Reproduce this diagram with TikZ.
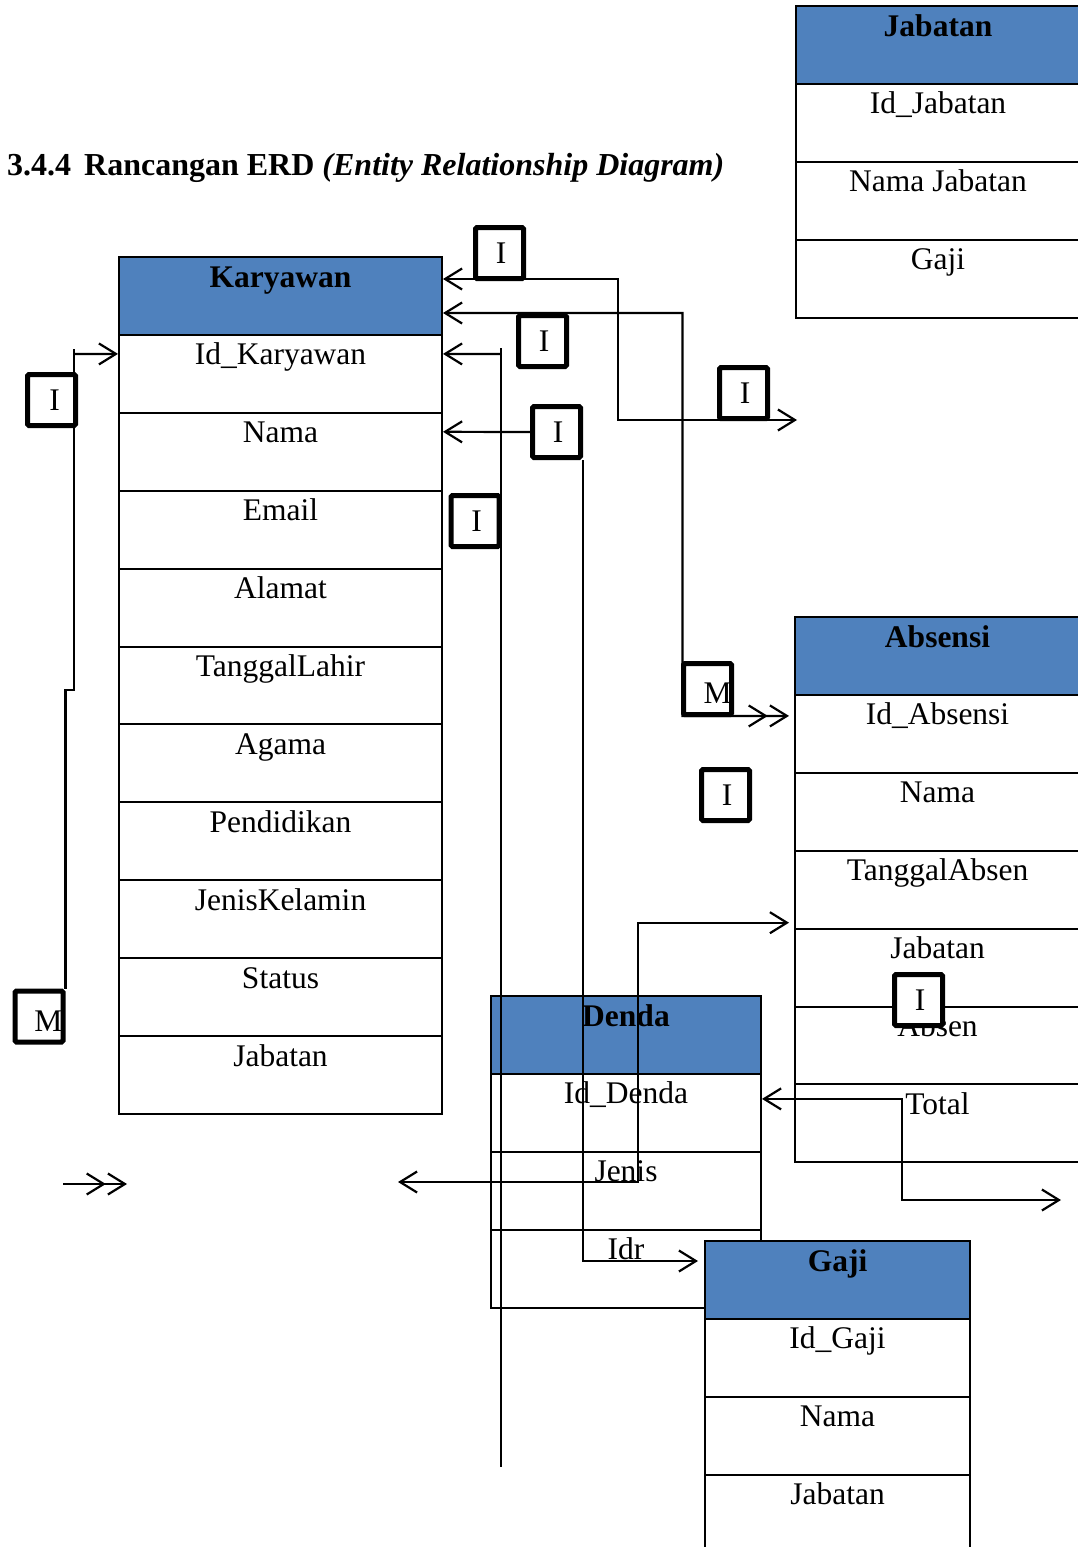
\documentclass[tikz,border=0pt]{standalone}
\usepackage{fontspec}
\setmainfont{Liberation Serif}
\usetikzlibrary{arrows.meta}
\definecolor{hdrblue}{HTML}{4F81BD}
\pgfdeclarelayer{back}
\pgfdeclarelayer{front}
\pgfsetlayers{back,main,front}
\newcommand{\attrfont}{\fontsize{31.5}{38}\selectfont}
% entity table: prefix, left x, top y, width, header, attributes
\newcommand{\erdtable}[6]{%
  \node[hcell, minimum width=#4pt] (#1-h) at (#2,#3) {#5};
  \foreach \a [count=\k] in {#6} {
    \node[cell, minimum width=#4pt] (#1-\k) at (#2,{#3+77.9*\k}) {\a};
  }
}
\begin{document}
\begin{tikzpicture}[x=1pt,y=-1pt,
  cell/.style={draw=black, line width=2pt, fill=white, anchor=north west,
    inner xsep=0pt, inner ysep=0pt, outer sep=0pt,
    text height=30pt, text depth=48pt, font=\attrfont},
  hcell/.style={cell, fill=hdrblue, font=\attrfont\bfseries},
  conn/.style={draw=black, line width=2.2pt},
  >={Straight Barb[length=17pt,width=21pt,sep=1pt]},
  tagbox/.style={draw=black, line width=5pt, fill=white, rounded corners=1.5pt,
    minimum width=48pt, minimum height=51pt, inner sep=0pt, font=\attrfont},
  tagtext/.style={inner sep=0pt, anchor=base, font=\attrfont}]
\useasboundingbox (0,0) rectangle (1078,1547);

% heading
\node[anchor=base west, inner sep=0pt, font=\fontsize{32}{38}\selectfont\bfseries] (title) at (7,175)
  {3.4.4\hspace{13pt}Rancangan ERD \textit{(Entity Relationship Diagram)}};

% entities
\begin{pgfonlayer}{back}
  \erdtable{jab}{796}{6}{284}{Jabatan}{Id\_Jabatan, Nama Jabatan, Gaji}
  \erdtable{kar}{119}{257}{323}{Karyawan}{Id\_Karyawan, Nama, Email, Alamat, TanggalLahir, Agama, Pendidikan, JenisKelamin, Status, Jabatan}
  \erdtable{abs}{795}{617}{285}{Absensi}{Id\_Absensi, Nama, TanggalAbsen, Jabatan, Absen, Total}
  \erdtable{den}{491}{996}{270}{Denda}{Id\_Denda, Jenis, Idr}
  \erdtable{gaj}{705}{1241}{265}{Gaji}{Id\_Gaji, Nama, Jabatan}
\end{pgfonlayer}

% cardinality marks
\begin{pgfonlayer}{front}
  \node[tagbox] (i1) at (499.5,253) {\hspace*{3pt}I};
  \node[tagbox] (i2) at (542.5,341) {\hspace*{3pt}I};
  \node[tagbox] (i3) at (556.5,432) {\hspace*{3pt}I};
  \node[tagbox] (i4) at (743.5,393) {\hspace*{3pt}I};
  \node[tagbox] (i5) at (475,521) {\hspace*{3pt}I};
  \node[tagbox] (i6) at (51.5,400) {\hspace*{6pt}I};
  \node[tagbox] (i7) at (725.5,795) {\hspace*{3pt}I};
  \node[tagbox] (i8) at (918.5,1000) {\hspace*{3pt}I};
  \node[tagbox] (m1) at (707.5,689) {};
  \node[tagtext] (m1t) at (717.5,703) {M};
  \node[tagbox] (m2) at (39,1016.5) {};
  \node[tagtext] (m2t) at (48.5,1031) {M};
\end{pgfonlayer}

% bends and free ends
\coordinate (c1b) at (618,420);
\coordinate (c1e) at (798,420);
\coordinate (c2b) at (682.5,716);
\coordinate (c3j) at (501,354);
\coordinate (c3t) at (501,348);
\coordinate (c3e) at (501,1467);
\coordinate (c5t) at (74,349);
\coordinate (c5j) at (74,354);
\coordinate (c5b) at (74,690);
\coordinate (c6s) at (63,1184);
\coordinate (c6e) at (128,1184);
\coordinate (c7s) at (397,1182);
\coordinate (c7b) at (638,1182);
\coordinate (c8b) at (902,1200);
\coordinate (c8e) at (1062,1200);

% connectors
\draw[conn,<->] ([yshift=17pt]kar-h.east) -| (c1b) -- (c1e);
\draw[conn,<->>] ([yshift=-17pt]kar-h.east) -| (c2b) -- ([xshift=-5pt,yshift=18pt]abs-1.west);
\draw[conn,<-] ([yshift=20pt]kar-1.east) -- (c3j);
\draw[conn] (c3t) -- (c3e);
\draw[conn,<-] ([yshift=20pt]kar-2.east) -- (i3.west);
\draw[conn,->] (i3.south east) |- ([xshift=-6pt,yshift=19pt]gaj-h.west);
\draw[conn] (c5t) -- (c5b) -| (m2.north east);
\draw[conn,->] (c5j) -- ([yshift=20pt]kar-1.west);
\draw[conn,->>] (c6s) -- (c6e);
\draw[conn,<->] (c7s) -- (c7b) |- ([xshift=-5pt,yshift=-33pt]abs-3.west);
\draw[conn,<->] ([yshift=14pt]den-1.east) -| (c8b) -- (c8e);
\end{tikzpicture}
\end{document}
